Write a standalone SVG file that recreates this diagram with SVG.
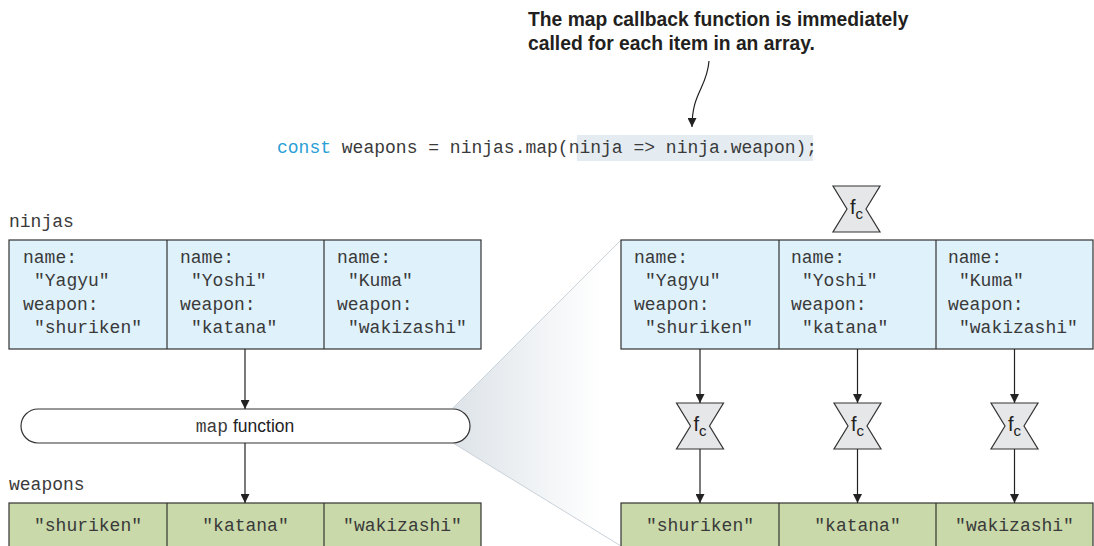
<svg xmlns="http://www.w3.org/2000/svg" width="1094" height="546" viewBox="0 0 1094 546">
  <style>
    .mono { font-family: "Liberation Mono", "Courier New", monospace; font-size: 18px; fill: #3a3a3a; }
    .sans { font-family: "Liberation Sans", Arial, sans-serif; fill: #222; }
    .head { font-family: "Liberation Sans", Arial, sans-serif; font-weight: bold; font-size: 19.3px; fill: #231f20; }
    .obj { fill: #dff1fb; stroke: #333; stroke-width: 1.2; }
    .res { fill: #c9d9a9; stroke: #333; stroke-width: 1.2; }
    .div { stroke: #333; stroke-width: 1.2; fill: none; }
    .conn { stroke: #222; stroke-width: 1.2; fill: none; marker-end: url(#arr); }
    .hg { fill: #e6e7e8; stroke: #333; stroke-width: 1.2; stroke-linejoin: miter; }
    .fc { font-family: "Liberation Sans", Arial, sans-serif; font-size: 20px; fill: #222; }
  </style>
  <defs>
    <marker id="arr" viewBox="0 0 10 10" refX="10" refY="5" markerWidth="9" markerHeight="9" markerUnits="userSpaceOnUse" orient="auto">
      <path d="M0,0 L10,5 L0,10 Z" fill="#222"/>
    </marker>
    <linearGradient id="wedge" x1="453" y1="0" x2="600" y2="0" gradientUnits="userSpaceOnUse">
      <stop offset="0" stop-color="#dde3e8"/>
      <stop offset="1" stop-color="#ffffff"/>
    </linearGradient>
    <path id="hgshape" d="M0,0 L47,0 L33,23 L47,46 L0,46 L14,23 Z"/>
  </defs>

  <!-- zoom wedge -->
  <g id="wedge-zoom">
    <polygon points="453,408 621,240 621,546 453,443" fill="url(#wedge)"/>
    <line x1="453" y1="408" x2="621" y2="240" stroke="#c9d1d9" stroke-width="1"/>
    <line x1="453" y1="443" x2="621" y2="546" stroke="#c9d1d9" stroke-width="1"/>
  </g>

  <!-- annotation -->
  <g id="annotation">
    <text class="head" x="528" y="26">The map callback function is immediately</text>
    <text class="head" x="528" y="50">called for each item in an array.</text>
  </g>

  <!-- code line -->
  <g id="code">
    <rect x="577" y="135" width="236" height="26" fill="#e4ecf2"/>
    <text class="mono" x="277" y="153"><tspan fill="#2a9fd6">const</tspan> weapons = ninjas.map(ninja =&gt; ninja.weapon);</text>
  </g>

  <!-- left ninjas -->
  <g id="ninjas-left">
    <text class="mono" x="9" y="227">ninjas</text>
    <rect class="obj" x="9" y="240" width="472" height="109"/>
    <line class="div" x1="167" y1="240" x2="167" y2="349"/>
    <line class="div" x1="324" y1="240" x2="324" y2="349"/>
    <g class="mono">
      <text x="23" y="263">name:</text>
      <text x="34" y="286">"Yagyu"</text>
      <text x="23" y="310">weapon:</text>
      <text x="34" y="333">"shuriken"</text>
      <text x="180" y="263">name:</text>
      <text x="191" y="286">"Yoshi"</text>
      <text x="180" y="310">weapon:</text>
      <text x="191" y="333">"katana"</text>
      <text x="337" y="263">name:</text>
      <text x="348" y="286">"Kuma"</text>
      <text x="337" y="310">weapon:</text>
      <text x="348" y="333">"wakizashi"</text>
    </g>
  </g>

  <!-- map function pill -->
  <g id="map-function">
    <rect x="21" y="409" width="449" height="34" rx="17" ry="17" fill="#fff" stroke="#333" stroke-width="1.2"/>
    <text x="245" y="432" text-anchor="middle"><tspan class="mono" font-size="17px">map</tspan><tspan class="sans" font-size="17.5px"> function</tspan></text>
  </g>

  <!-- left weapons -->
  <g id="weapons-left">
    <text class="mono" x="9" y="490">weapons</text>
    <rect class="res" x="9" y="503" width="472" height="60"/>
    <line class="div" x1="167" y1="503" x2="167" y2="563"/>
    <line class="div" x1="324" y1="503" x2="324" y2="563"/>
    <g class="mono" text-anchor="middle">
      <text x="88" y="531">"shuriken"</text>
      <text x="245.5" y="531">"katana"</text>
      <text x="402.5" y="531">"wakizashi"</text>
    </g>
  </g>

  <!-- right ninjas -->
  <g id="ninjas-right">
    <rect class="obj" x="621" y="240" width="472" height="109"/>
    <line class="div" x1="779" y1="240" x2="779" y2="349"/>
    <line class="div" x1="936" y1="240" x2="936" y2="349"/>
    <g class="mono">
      <text x="634" y="263">name:</text>
      <text x="645" y="286">"Yagyu"</text>
      <text x="634" y="310">weapon:</text>
      <text x="645" y="333">"shuriken"</text>
      <text x="791" y="263">name:</text>
      <text x="802" y="286">"Yoshi"</text>
      <text x="791" y="310">weapon:</text>
      <text x="802" y="333">"katana"</text>
      <text x="948" y="263">name:</text>
      <text x="959" y="286">"Kuma"</text>
      <text x="948" y="310">weapon:</text>
      <text x="959" y="333">"wakizashi"</text>
    </g>
  </g>

  <!-- right weapons -->
  <g id="weapons-right">
    <rect class="res" x="621" y="503" width="472" height="60"/>
    <line class="div" x1="779" y1="503" x2="779" y2="563"/>
    <line class="div" x1="936" y1="503" x2="936" y2="563"/>
    <g class="mono" text-anchor="middle">
      <text x="700" y="531">"shuriken"</text>
      <text x="857.5" y="531">"katana"</text>
      <text x="1014.5" y="531">"wakizashi"</text>
    </g>
  </g>

  <!-- callback nodes -->
  <g id="fc-top">
    <use href="#hgshape" class="hg" x="833" y="186"/>
    <text class="fc" x="850" y="214">f<tspan font-size="15px" dy="5">c</tspan></text>
  </g>
  <g id="fc-1">
    <use href="#hgshape" class="hg" x="676.5" y="403"/>
    <text class="fc" x="693.5" y="431">f<tspan font-size="15px" dy="5">c</tspan></text>
  </g>
  <g id="fc-2">
    <use href="#hgshape" class="hg" x="834" y="403"/>
    <text class="fc" x="851" y="431">f<tspan font-size="15px" dy="5">c</tspan></text>
  </g>
  <g id="fc-3">
    <use href="#hgshape" class="hg" x="991" y="403"/>
    <text class="fc" x="1008" y="431">f<tspan font-size="15px" dy="5">c</tspan></text>
  </g>

  <!-- connectors -->
  <g id="connectors">
    <path class="conn" d="M709,61 C707,88 692,92 692,127"/>
    <line class="conn" x1="245" y1="349" x2="245" y2="409"/>
    <line class="conn" x1="245" y1="443" x2="245" y2="503"/>
    <line class="conn" x1="700" y1="349" x2="700" y2="403"/>
    <line class="conn" x1="700" y1="449" x2="700" y2="503"/>
    <line class="conn" x1="857.5" y1="349" x2="857.5" y2="403"/>
    <line class="conn" x1="857.5" y1="449" x2="857.5" y2="503"/>
    <line class="conn" x1="1014.5" y1="349" x2="1014.5" y2="403"/>
    <line class="conn" x1="1014.5" y1="449" x2="1014.5" y2="503"/>
  </g>
</svg>
